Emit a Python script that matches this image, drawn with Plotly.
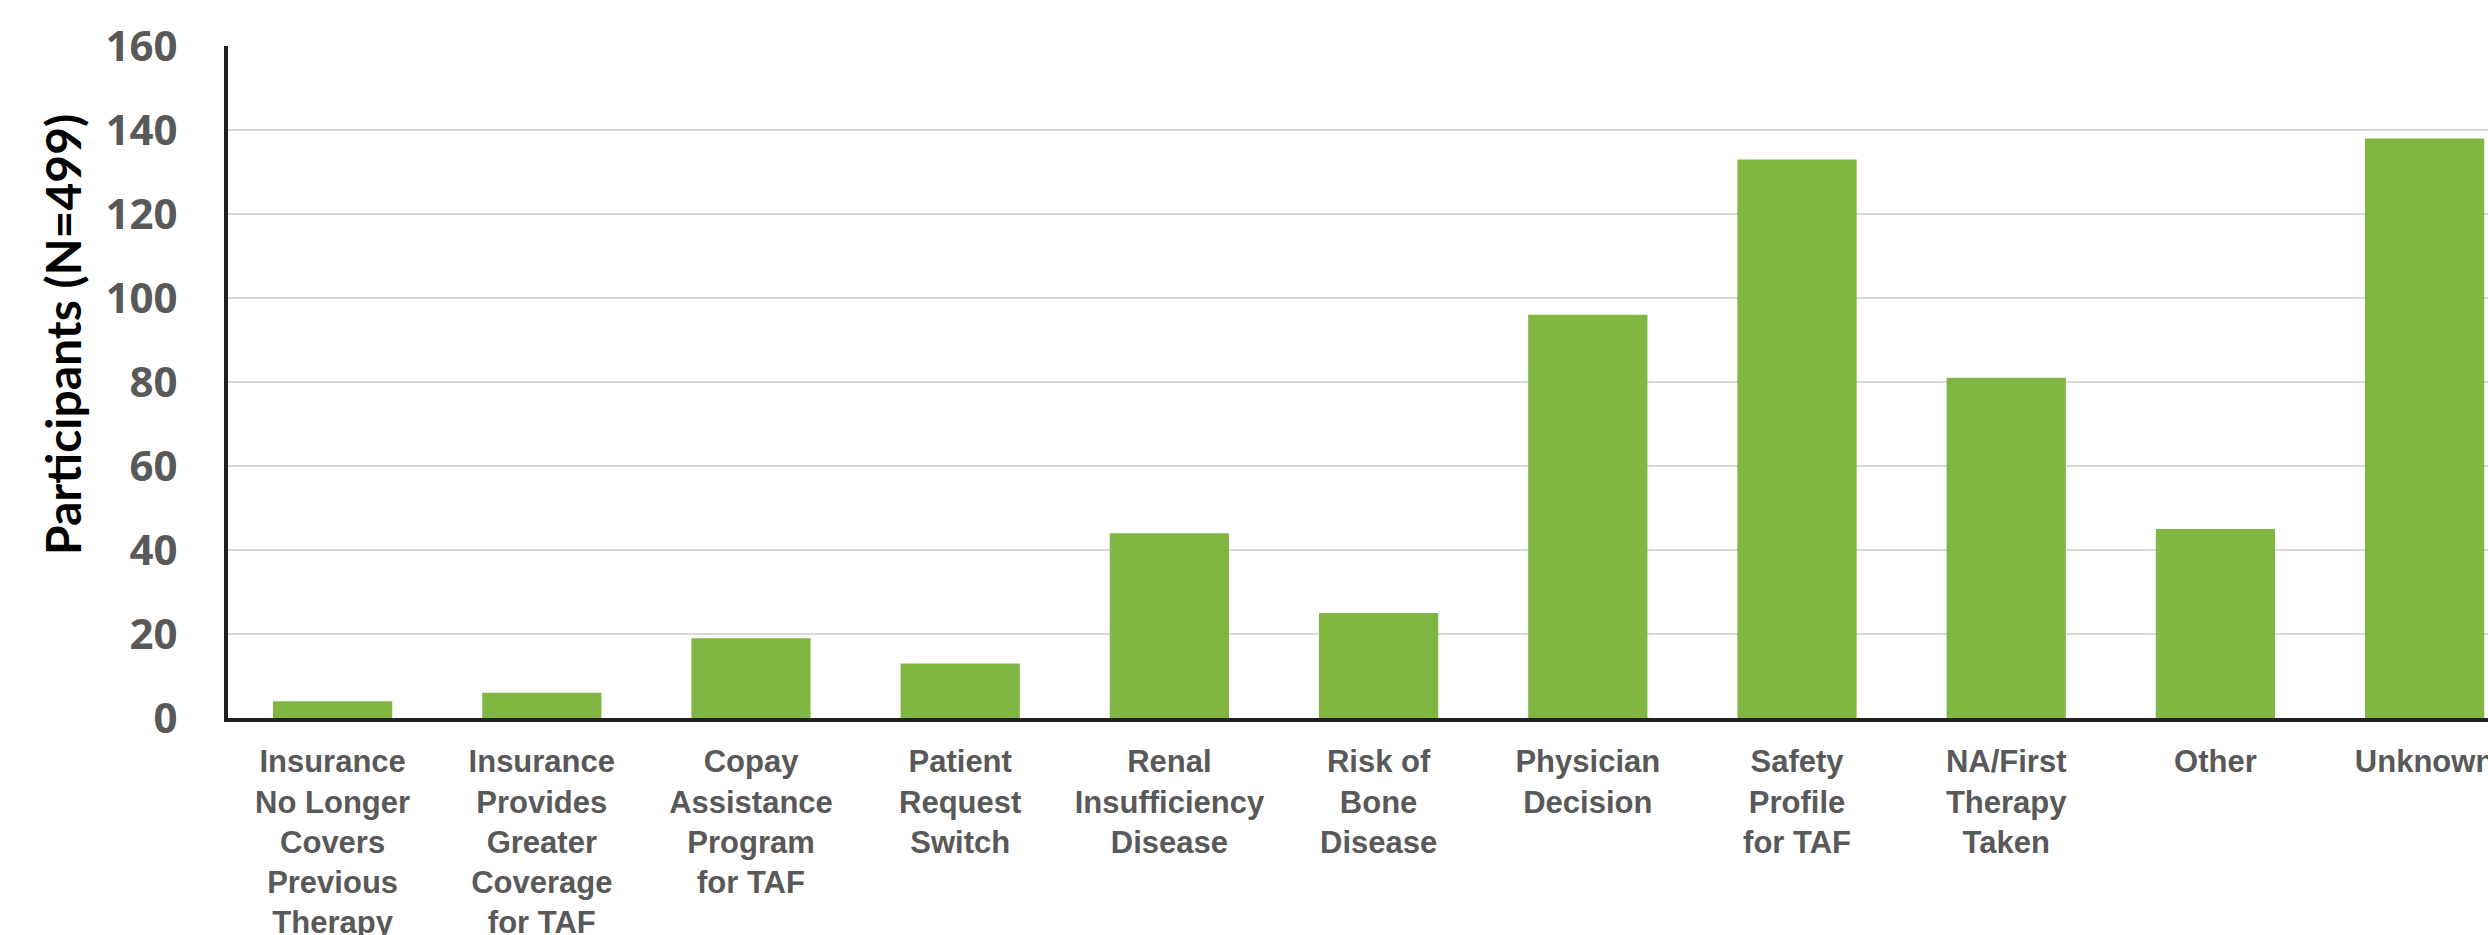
import plotly.graph_objects as go

categories = [
    "Insurance No Longer Covers Previous Therapy",
    "Insurance Provides Greater Coverage for TAF",
    "Copay Assistance Program for TAF",
    "Patient Request Switch",
    "Renal Insufficiency Disease",
    "Risk of Bone Disease",
    "Physician Decision",
    "Safety Profile for TAF",
    "NA/First Therapy Taken",
    "Other",
    "Unknown",
]
tick_labels = [
    "Insurance<br>No Longer<br>Covers<br>Previous<br>Therapy",
    "Insurance<br>Provides<br>Greater<br>Coverage<br>for TAF",
    "Copay<br>Assistance<br>Program<br>for TAF",
    "Patient<br>Request<br>Switch",
    "Renal<br>Insufficiency<br>Disease",
    "Risk of<br>Bone<br>Disease",
    "Physician<br>Decision",
    "Safety<br>Profile<br>for TAF",
    "NA/First<br>Therapy<br>Taken",
    "Other",
    "Unknown",
]
participants = [4, 6, 19, 13, 44, 25, 96, 133, 81, 45, 138]
y_ticks = [0, 20, 40, 60, 80, 100, 120, 140, 160]
y_title = "Participants (N=499)"

GRAY = "#595959"
AXIS = "#231f20"

fig = go.Figure(
    go.Bar(
        x=categories,
        y=participants,
        marker=dict(color="#80b742", line=dict(width=0)),
    )
)

fig.update_layout(
    width=2488,
    height=935,
    margin=dict(l=228, r=0, t=46, b=217, autoexpand=False),
    paper_bgcolor="white",
    plot_bgcolor="white",
    bargap=0.43,
    showlegend=False,
    xaxis=dict(
        type="category",
        categoryorder="array",
        categoryarray=categories,
        tickvals=categories,
        ticktext=tick_labels,
        range=[-0.5, 10.303],
        automargin=False,
        showline=True,
        linecolor=AXIS,
        linewidth=4,
        showgrid=False,
        ticks="",
        tickangle=0,
        tickfont=dict(family="Liberation Sans, Arial, sans-serif", size=31, color=GRAY, weight="bold"),
        ticklabelstandoff=13,
    ),
    yaxis=dict(
        range=[0, 160],
        tickvals=y_ticks,
        automargin=False,
        showline=True,
        linecolor=AXIS,
        linewidth=4,
        showgrid=True,
        gridcolor="#d9d9d9",
        gridwidth=1.5,
        zeroline=False,
        ticks="",
        tickfont=dict(family="Open Sans, sans-serif", size=42, color=GRAY, weight="bold"),
        ticklabelstandoff=38,
    ),
    annotations=[
        dict(
            text=y_title,
            xref="paper",
            yref="paper",
            x=0,
            y=0.57,
            xshift=-165,
            xanchor="center",
            yanchor="middle",
            textangle=-90,
            showarrow=False,
            font=dict(family="Lato, Open Sans, sans-serif", size=48, color="black", weight="bold"),
        )
    ],
)

fig.write_html(
    "out.html",
    config={"displayModeBar": False},
    post_script="document.body.style.margin='0';document.body.style.overflow='hidden';",
)
